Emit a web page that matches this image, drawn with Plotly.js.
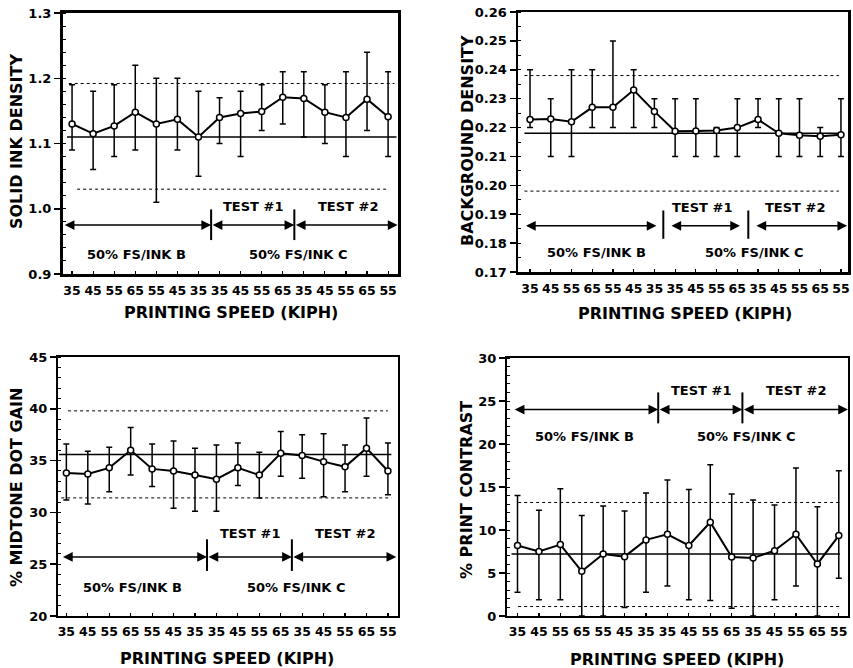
<!DOCTYPE html>
<html><head><meta charset="utf-8">
<script src="https://cdn.plot.ly/plotly-3.0.1.min.js"></script>
<style>html,body{margin:0;padding:0;background:#fff}#chart{width:853px;height:668px}</style>
</head><body><div id="chart"></div>
<script>
// ---------- data ----------
const speedLabels = ['35','45','55','65','55','45','35','35','45','55','65','35','45','55','65','55'];
const runIndex = [0,1,2,3,4,5,6,7,8,9,10,11,12,13,14,15];
const groupLabels = ['TEST #1','TEST #2','50% FS/INK B','50% FS/INK C'];
const xTitle = 'PRINTING SPEED (KIPH)';

const solidInk     = [1.13,1.115,1.127,1.148,1.13,1.137,1.11,1.14,1.146,1.149,1.171,1.169,1.148,1.14,1.168,1.141];
const solidInkHigh = [1.19,1.18,1.19,1.22,1.20,1.20,1.18,1.17,1.18,1.19,1.21,1.21,1.19,1.21,1.24,1.21];
const solidInkLow  = [1.09,1.06,1.08,1.09,1.01,1.09,1.05,1.10,1.08,1.12,1.13,1.11,1.10,1.08,1.12,1.08];
const solidInkRefs = [1.11,1.192,1.03];        // grand mean, upper limit, lower limit

const background     = [0.2228,0.223,0.222,0.227,0.227,0.233,0.2256,0.2187,0.2188,0.219,0.220,0.2228,0.218,0.2173,0.217,0.2175];
const backgroundHigh = [0.24,0.23,0.24,0.24,0.25,0.24,0.23,0.23,0.23,0.22,0.23,0.23,0.23,0.23,0.22,0.23];
const backgroundLow  = [0.22,0.21,0.21,0.22,0.22,0.22,0.22,0.21,0.21,0.21,0.21,0.22,0.21,0.21,0.21,0.21];
const backgroundRefs = [0.218,0.238,0.198];

const dotGain     = [33.8,33.7,34.3,36.0,34.2,34.0,33.6,33.2,34.3,33.6,35.7,35.5,34.9,34.4,36.2,34.0];
const dotGainHigh = [36.6,35.9,36.3,38.2,36.6,36.9,36.2,36.5,36.7,35.8,37.8,37.5,37.6,36.5,39.1,36.7];
const dotGainLow  = [31.2,30.8,32.0,33.6,32.5,30.4,30.1,30.1,32.6,31.4,33.5,33.3,31.5,32.0,33.5,31.7];
const dotGainRefs = [35.6,39.8,31.4];

const contrast     = [8.2,7.5,8.3,5.2,7.2,6.9,8.85,9.5,8.2,10.9,6.85,6.75,7.6,9.5,6.05,9.35];
const contrastHigh = [14.0,12.3,14.8,11.7,12.8,12.2,14.3,15.8,14.7,17.6,14.2,13.5,12.9,17.2,12.7,16.9];
const contrastLow  = [2.75,1.9,1.9,0.0,0.0,1.0,2.75,3.5,1.9,1.8,0.9,0.0,1.9,3.5,0.0,4.4];
const contrastRefs = [7.2,13.2,1.1];

// ---------- layout helpers ----------
const W = 853, H = 668;
const px = v => v / W;
const py = v => 1 - v / H;
const FONT = 'DejaVu Sans, Liberation Sans, Arial, sans-serif';

const panels = [
  { mean: solidInk, hi: solidInkHigh, lo: solidInkLow, refs: solidInkRefs,
    title: 'SOLID INK DENSITY', box: [63, 398, 13, 274], xr: [-0.43, 15.47],
    yr: [0.9, 1.3], dtick: 0.1, fmt: '.1f', minor: 0.02, lw: 3,
    refX: [[-0.24, 15.4], [-0.16, 15.3], [0.24, 15.0]],
    arrowY: 0.975, bar: [0.952, 0.999], seps: [6.6, 10.55],
    segs: [[-0.42, 6.6], [6.6, 10.55], [10.55, 15.45]],
    textTop: 1.004, textBot: 0.93, tx: [8.6, 13.1, 3.08, 10.74],
    yTitle: [17, 142], xTitlePos: [231, 312] },
  { mean: background, hi: backgroundHigh, lo: backgroundLow, refs: backgroundRefs,
    title: 'BACKGROUND DENSITY', box: [518, 848, 12, 272], xr: [-0.58, 15.34],
    yr: [0.17, 0.26], dtick: 0.01, fmt: '.2f', minor: 0.005, lw: 2.5,
    refX: [[-0.27, 15.1], [-0.27, 14.9], [-0.27, 14.9]],
    arrowY: 0.186, bar: [0.1815, 0.1913], seps: [6.43, 10.53],
    segs: [[-0.27, 6.1], [6.75, 10.13], [10.85, 15.3]],
    textTop: 0.1925, textBot: 0.1767, tx: [8.28, 12.78, 3.2, 10.85],
    yTitle: [467, 140], xTitlePos: [685, 313] },
  { mean: dotGain, hi: dotGainHigh, lo: dotGainLow, refs: dotGainRefs,
    title: '% MIDTONE DOT GAIN', box: [58, 398, 357, 616], xr: [-0.39, 15.47],
    yr: [20, 45], dtick: 5, fmt: 'd', minor: 1, lw: 2,
    refX: [[-0.34, 15.16], [0.08, 15.0], [-0.24, 15.16]],
    arrowY: 25.7, bar: [24.35, 27.4], seps: [6.56, 10.52],
    segs: [[-0.23, 6.56], [6.56, 10.52], [10.52, 15.39]],
    textTop: 28.0, textBot: 22.76, tx: [8.55, 12.98, 3.1, 10.73],
    yTitle: [16, 488], xTitlePos: [227, 658] },
  { mean: contrast, hi: contrastHigh, lo: contrastLow, refs: contrastRefs,
    title: '% PRINT CONTRAST', box: [507, 848, 358, 616], xr: [-0.49, 15.43],
    yr: [0, 30], dtick: 5, fmt: 'd', minor: 1, lw: 2,
    refX: [[-0.28, 15.05], [0.03, 15.05], [0.03, 15.05]],
    arrowY: 24.0, bar: [22.4, 26.0], seps: [6.57, 10.5],
    segs: [[-0.2, 6.57], [6.57, 10.5], [10.5, 15.43]],
    textTop: 26.2, textBot: 20.9, tx: [8.59, 13.02, 3.14, 10.69],
    yTitle: [467, 490], xTitlePos: [677, 659] }
];

const traces = [], shapes = [], annotations = [];
const layout = {
  width: W, height: H, margin: {l: 0, r: 0, t: 0, b: 0},
  paper_bgcolor: '#fff', plot_bgcolor: '#fff', showlegend: false,
  font: {family: FONT, color: '#000', size: 13, weight: 'bold'}
};

panels.forEach((p, i) => {
  const n = i === 0 ? '' : String(i + 1);
  const xa = 'x' + n, ya = 'y' + n;
  traces.push({
    type: 'scatter', mode: 'lines+markers', x: runIndex, y: p.mean,
    xaxis: xa, yaxis: ya, cliponaxis: false,
    line: {color: '#000', width: 2},
    marker: {symbol: 'circle', size: 6, color: '#fff', line: {color: '#000', width: 1.5}},
    error_y: {type: 'data', symmetric: false,
      array: p.hi.map((h, k) => h - p.mean[k]),
      arrayminus: p.lo.map((l, k) => p.mean[k] - l),
      color: '#000', thickness: 1.5, width: 3}
  });
  layout['xaxis' + n] = {
    domain: [px(p.box[0]), px(p.box[1])], range: p.xr, anchor: ya,
    showline: true, linecolor: '#000', linewidth: p.lw, mirror: true,
    showgrid: false, zeroline: false, ticks: 'inside', ticklen: 3, tickwidth: 1.2,
    tickcolor: '#000', tickvals: runIndex, ticktext: speedLabels,
    tickfont: {family: FONT, size: 12.5, weight: 'bold', color: '#000'},
    ticklabelstandoff: 3, automargin: false, fixedrange: true
  };
  layout['yaxis' + n] = {
    domain: [py(p.box[3]), py(p.box[2])], range: p.yr, anchor: xa,
    showline: true, linecolor: '#000', linewidth: p.lw, mirror: true,
    showgrid: false, zeroline: false, ticks: 'outside', ticklen: 6, tickwidth: 1.5,
    tickcolor: '#000', dtick: p.dtick, tick0: p.yr[0], tickformat: p.fmt,
    tickfont: {family: FONT, size: 13, weight: 'bold', color: '#000'},
    minor: {ticks: 'inside', ticklen: 3, dtick: p.minor, tickcolor: '#000', tickwidth: 1},
    automargin: false, fixedrange: true
  };
  // reference lines: grand mean (solid) and limits (dotted)
  p.refs.forEach((r, k) => {
    shapes.push({type: 'line', xref: xa, yref: ya, layer: 'below',
      x0: p.refX[k][0], x1: p.refX[k][1], y0: r, y1: r,
      line: {color: '#000', width: k === 0 ? 1.5 : 1, dash: k === 0 ? 'solid' : 'dot'}});
  });
  // separators
  p.seps.forEach(s => {
    shapes.push({type: 'line', xref: xa, yref: ya, x0: s, x1: s, y0: p.bar[0], y1: p.bar[1],
      line: {color: '#000', width: 2}});
  });
  // double-headed arrows
  p.segs.forEach(sg => {
    annotations.push({xref: xa, yref: ya, axref: xa, ayref: ya,
      x: sg[1], y: p.arrowY, ax: sg[0], ay: p.arrowY, text: '',
      showarrow: true, arrowside: 'end+start', arrowhead: 2, startarrowhead: 2,
      arrowsize: 1.3, startarrowsize: 1.3, arrowwidth: 1.5, arrowcolor: '#000',
      standoff: 0, startstandoff: 0});
  });
  // group labels
  groupLabels.forEach((g, k) => {
    annotations.push({xref: xa, yref: ya, x: p.tx[k], y: k < 2 ? p.textTop : p.textBot,
      text: g, showarrow: false, xanchor: 'center', yanchor: 'middle',
      font: {family: FONT, size: 13, weight: 'bold', color: '#000'}});
  });
  // axis titles
  annotations.push({xref: 'paper', yref: 'paper', x: px(p.yTitle[0]), y: py(p.yTitle[1]),
    text: p.title, textangle: -90, showarrow: false, xanchor: 'center', yanchor: 'middle',
    font: {family: FONT, size: 16, weight: 'bold', color: '#000'}});
  annotations.push({xref: 'paper', yref: 'paper', x: px(p.xTitlePos[0]), y: py(p.xTitlePos[1]),
    text: xTitle, showarrow: false, xanchor: 'center', yanchor: 'middle',
    font: {family: FONT, size: 16, weight: 'bold', color: '#000'}});
});

layout.shapes = shapes;
layout.annotations = annotations;
Plotly.newPlot('chart', traces, layout, {staticPlot: true, displayModeBar: false});
</script></body></html>
